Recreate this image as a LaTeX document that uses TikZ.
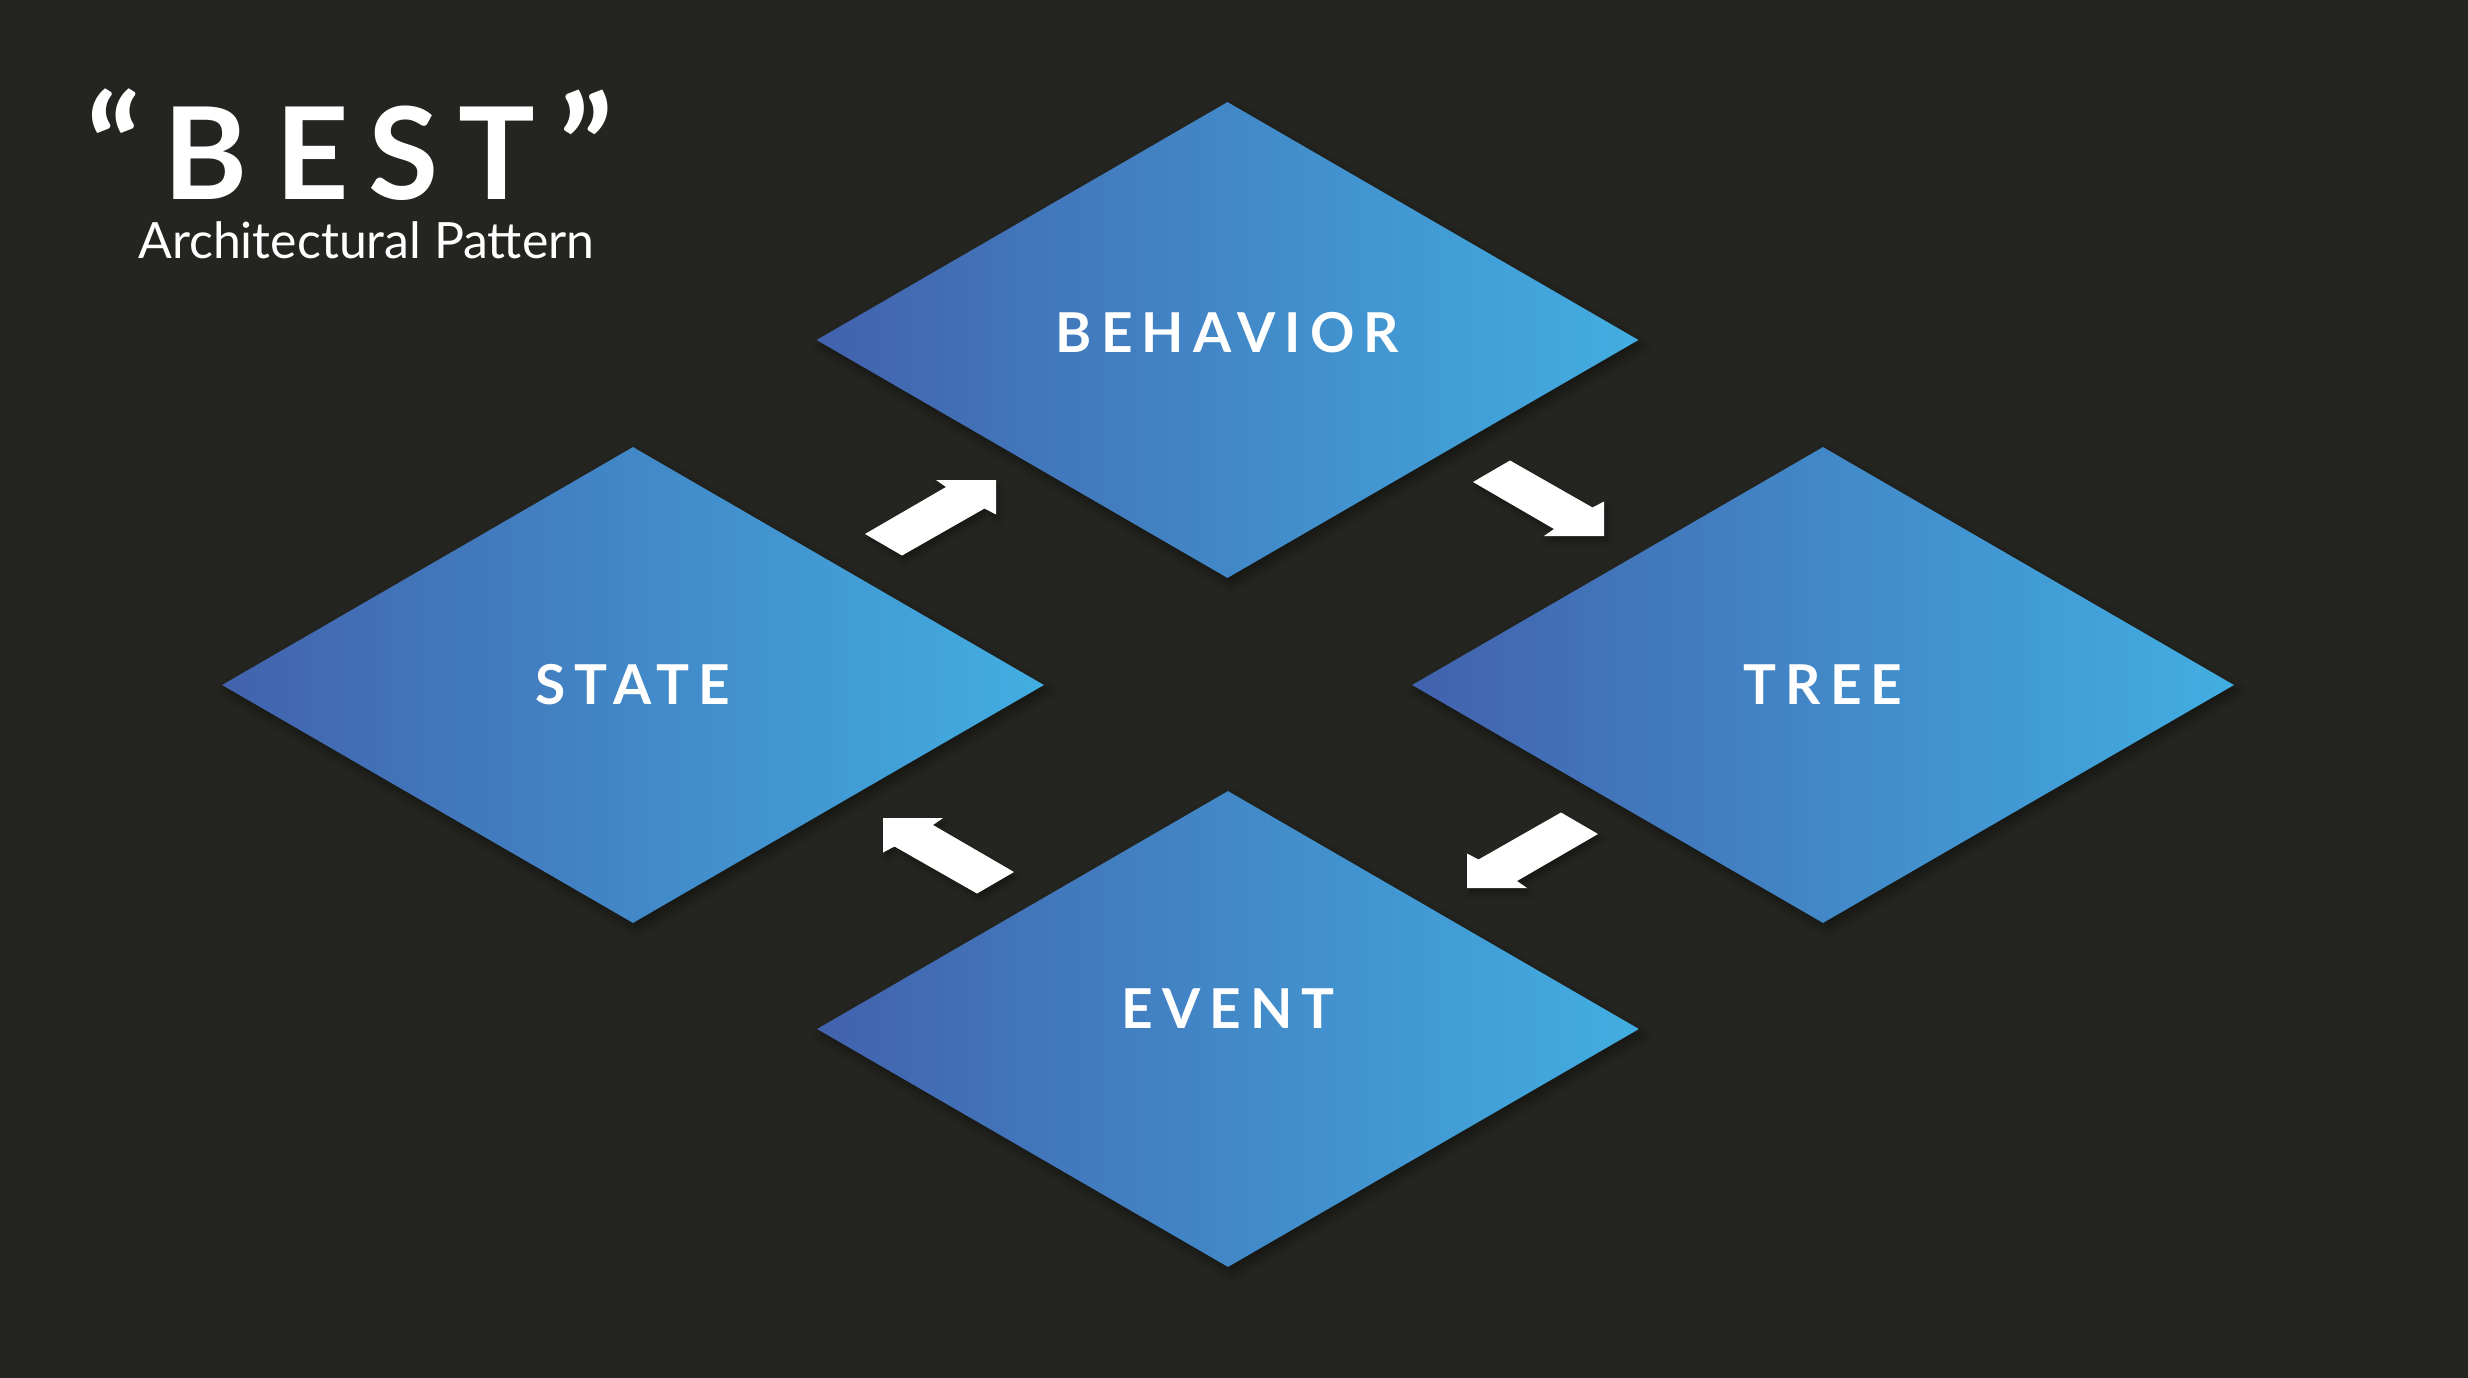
\documentclass[tikz,border=0pt]{standalone}
\usepackage{fontspec}
\setmainfont{Lato}
\usetikzlibrary{shapes.geometric,shadows.blur}
\definecolor{bg}{HTML}{242520}
\definecolor{dleft}{HTML}{4262AD}
\definecolor{dright}{HTML}{42AEE2}
\tikzset{
  dia/.style={diamond, aspect=1.727, minimum width=822pt, minimum height=476pt,
    inner sep=0pt, draw=none, left color=dleft, right color=dright,
    blur shadow={shadow xshift=4pt, shadow yshift=-6pt, shadow opacity=40, shadow blur radius=10pt}},
  lbl/.style={text=white, inner sep=0pt,
    font=\fontsize{55}{55}\selectfont\bfseries\addfontfeature{LetterSpace=16.5}},
  blockarrow/.style={fill=white, draw=none,
    blur shadow={shadow xshift=3pt, shadow yshift=-5pt, shadow opacity=35, shadow blur radius=6pt}},
}
\begin{document}
\begin{tikzpicture}[x=1pt,y=-1pt]
\fill[bg] (0,0) rectangle (2468,1378);
\useasboundingbox (0,0) rectangle (2468,1378);

% title
\node[text=white, inner sep=0pt, anchor=base west, text depth=0pt,
  font=\fontsize{128}{128}\selectfont\bfseries\addfontfeature{LetterSpace=15}]
  (title) at (86,199) {{\fontsize{142}{142}\selectfont “}\kern22pt B\kern28.5pt EST\kern24pt {\fontsize{142}{142}\selectfont ”}};
\node[text=white, inner sep=0pt, anchor=base west,
  font=\fontsize{50}{50}\selectfont]
  (subtitle) at (138,258) {Architectural Pattern};

% diamonds
\node[dia] (beh) at (1227.5,340) {};
\node[dia] (sta) at (633,685) {};
\node[dia] (tre) at (1823,685) {};
\node[dia] (eve) at (1228,1029) {};

% labels
\node[lbl] (lbeh) at ([yshift=7pt]beh.center) {BEHAVIOR};
\node[lbl] (lsta) at (sta.center) {STATE};
\node[lbl] (ltre) at (tre.center) {TREE};
\node[lbl] (leve) at ([yshift=20pt]eve.center) {EVENT};

% arrows (isometric block arrows)
\coordinate (a1) at (996,480);
\coordinate (a2) at (1604,536);
\coordinate (a3) at (1467,888);
\coordinate (a4) at (883,818);
\fill[blockarrow, shift={(a1)}] (-131,54) -- (-50,7) -- (-60,0) -- (0,0) -- (0,34.5) -- (-11.5,28.5) -- (-94,75.5) -- cycle;
\fill[blockarrow, shift={(a2)}] (-131,-54) -- (-94,-75.5) -- (-11.5,-28.5) -- (0,-34.5) -- (0,0) -- (-60,0) -- (-50,-7) -- cycle;
\fill[blockarrow, shift={(a3)}] (131,-54) -- (94,-75.5) -- (11.5,-28.5) -- (0,-34.5) -- (0,0) -- (60,0) -- (50,-7) -- cycle;
\fill[blockarrow, shift={(a4)}] (131,54) -- (50,7) -- (60,0) -- (0,0) -- (0,34.5) -- (11.5,28.5) -- (94,75.5) -- cycle;
\end{tikzpicture}
\end{document}
